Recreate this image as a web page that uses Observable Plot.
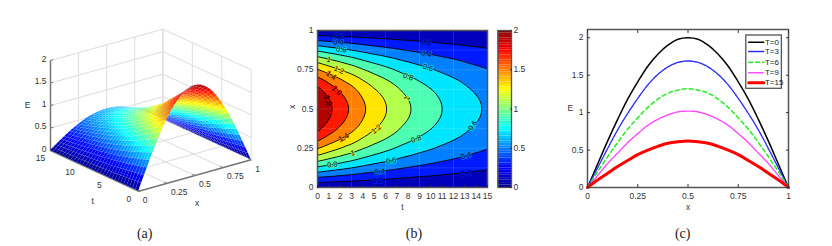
<!DOCTYPE html>
<html><head><meta charset="utf-8">
<script src="https://cdn.jsdelivr.net/npm/d3@7"></script>
<script src="https://cdn.jsdelivr.net/npm/@observablehq/plot@0.6"></script>
<style>
html,body{margin:0;padding:0;background:#fff;width:832px;height:246px;overflow:hidden}
#root{position:relative;width:832px;height:246px}
#root>svg,#root>figure{position:absolute;margin:0}
.cap{position:absolute;top:226px;font-family:"Liberation Serif",serif;font-size:14px;color:#222;transform:translateX(-50%)}
</style></head><body><div id="root"></div>
<script>
// ---- values ----
const xGrid = [0,.025,.05,.075,.1,.125,.15,.175,.2,.225,.25,.275,.3,.325,.35,.375,.4,.425,.45,.475,.5,.525,.55,.575,.6,.625,.65,.675,.7,.725,.75,.775,.8,.825,.85,.875,.9,.925,.95,.975,1];
const profile = [0,.0785,.156,.233,.309,.383,.454,.523,.588,.649,.707,.760,.809,.853,.891,.924,.951,.972,.988,.997,1,.997,.988,.972,.951,.924,.891,.853,.809,.760,.707,.649,.588,.523,.454,.383,.309,.233,.156,.0785,0];
const tGrid = [0,.5,1,1.5,2,2.5,3,3.5,4,4.5,5,5.5,6,6.5,7,7.5,8,8.5,9,9.5,10,10.5,11,11.5,12,12.5,13,13.5,14,14.5,15];
const midlineE = [2,1.92,1.84,1.77,1.70,1.63,1.57,1.50,1.43,1.37,1.31,1.26,1.21,1.16,1.11,1.06,1.02,.98,.94,.905,.87,.835,.80,.77,.74,.71,.68,.65,.625,.60,.575];

const xCurve = [0,.05,.1,.15,.2,.25,.3,.35,.4,.45,.5,.55,.6,.65,.7,.75,.8,.85,.9,.95,1];
const seriesT0  = [0,.31,.62,.91,1.18,1.41,1.62,1.78,1.90,1.98,2.00,1.98,1.90,1.78,1.62,1.41,1.18,.91,.62,.31,0];
const seriesT3  = [0,.26,.52,.77,.99,1.19,1.37,1.51,1.61,1.67,1.69,1.67,1.61,1.51,1.37,1.19,.99,.77,.52,.26,0];
const seriesT6  = [0,.21,.41,.60,.78,.93,1.07,1.18,1.26,1.30,1.32,1.30,1.26,1.18,1.07,.93,.78,.60,.41,.21,0];
const seriesT9  = [0,.16,.32,.46,.60,.72,.83,.91,.97,1.01,1.02,1.01,.97,.91,.83,.72,.60,.46,.32,.16,0];
const seriesT15 = [0,.10,.19,.28,.36,.44,.50,.55,.59,.61,.62,.61,.59,.55,.50,.44,.36,.28,.19,.10,0];

const xTicks = [0,.25,.5,.75,1];
const tTicks3d = [0,5,10,15];
const tTicks = [0,1,2,3,4,5,6,7,8,9,10,11,12,13,14,15];
const eTicks = [0,.5,1,1.5,2];
const levels = [.2,.4,.6,.8,1,1.2,1.4,1.6,1.8];
const bands = [0,...levels];
const faintT = [3,6,9,12];
const faintX = [.125,.25,.375,.5,.625,.75,.875];

const contourLabels = [
 [1.9,.964,.2,3],[9.6,.926,.2,5],[1.85,.926,.4,4],[9.6,.851,.4,10],[2.1,.879,.6,8],[9.75,.764,.6,18],
 [8,.706,.8,22],[1,.815,1,15],[1.9,.749,1.2,25],[1.2,.713,1.4,35],[1.7,.617,1.6,45],[.9,.553,1.8,70],
 [7.9,.57,1,-75],[13.7,.394,.6,-55],[8.7,.309,.8,-20],[5.2,.372,1.2,-40],[2.3,.319,1.4,-30],[3.1,.219,1,-15],
 [6.5,.17,.6,-10],[1.3,.145,.8,-8],[13.1,.202,.4,-15],[5.5,.1,.4,-5],[13.1,.091,.2,-3],[5.3,.043,.2,-1]
].map(([t,x,level,rotate])=>({t,x,level,rotate}));

const legendRows = [
 {label:"T=0", y:1.94, stroke:"#000", width:1.5, dash:null},
 {label:"T=3", y:1.817,stroke:"#2a2aff",width:1.4,dash:"1.5 1"},
 {label:"T=6", y:1.674,stroke:"#22ee22",width:1.5,dash:"4 3"},
 {label:"T=9", y:1.532,stroke:"#ff44ff",width:1.4,dash:"1.2 1"},
 {label:"T=15",y:1.398,stroke:"#f00",width:3,dash:null}
];

// ---- shared ----
const jetDomain = [0,.25,.75,1.25,1.75,2];
const jetRange = ["#00008f","#0000ff","#00ffff","#ffff00","#ff0000","#800000"];
const frameColor = "#555";
const font = {fontFamily:"'Liberation Sans',Arial,sans-serif",fontSize:"8.5px",color:"#333",background:"transparent",overflow:"visible"};
const root = document.getElementById("root");
function place(plot,left,top=0){plot.style.left=left+"px";plot.style.top=top+"px";root.appendChild(plot);}

const table = tGrid.flatMap((t,i)=>xGrid.map((x,j)=>({t,x,E:midlineE[i]*profile[j]})));

// ---- (a) surface ----
const px = (x,t)=>138.3+112.4*x-5.887*t;
const py = (x,t,E)=>190.7-31.4*x-2.71*t-45*E;
const seg = (a,b)=>({x1:px(a[0],a[1]),y1:py(...a),x2:px(b[0],b[1]),y2:py(...b)});
const gridSegs = [
 ...eTicks.flatMap(E=>[seg([0,15,E],[1,15,E]),seg([1,15,E],[1,0,E])]),
 ...xTicks.flatMap(x=>[seg([x,15,0],[x,15,2]),seg([x,15,0],[x,0,0])]),
 ...tTicks3d.flatMap(t=>[seg([1,t,0],[1,t,2]),seg([1,t,0],[0,t,0])])
];
const axisSegs = [seg([0,15,0],[0,15,2]),seg([0,0,0],[1,0,0]),seg([0,15,0],[0,0,0])];
const tickSegs = [
 ...eTicks.map(E=>seg([0,15,E],[.025,15,E])),
 ...xTicks.map(x=>seg([x,0,0],[x,.45,0])),
 ...tTicks3d.map(t=>seg([0,t,0],[.025,t,0]))
];
const quads = [];
let id = 0;
for (let i=tGrid.length-2;i>=0;i--) for (let j=xGrid.length-2;j>=0;j--) {
  const T0=tGrid[i],T1=tGrid[i+1],X0=xGrid[j],X1=xGrid[j+1];
  const e=(a,b)=>midlineE[a]*profile[b];
  const mean=(e(i,j)+e(i+1,j)+e(i,j+1)+e(i+1,j+1))/4;
  quads.push({id,E:mean,a:px(X0,T0),b:py(X0,T0,e(i,j)),c:px(X0,T1),d:py(X0,T1,e(i+1,j))});
  quads.push({id,E:mean,a:px(X1,T0),b:py(X1,T0,e(i,j+1)),c:px(X1,T1),d:py(X1,T1,e(i+1,j+1))});
  id++;
}
const lab3d = (rows,o)=>Plot.text(rows,{x:"x",y:"y",text:"text",fill:"#333",...o});
place(Plot.plot({
  width:300,height:222,margin:0,style:font,
  x:{domain:[0,300],range:[0,300],axis:null},
  y:{domain:[0,222],range:[0,222],axis:null},
  color:{type:"linear",domain:jetDomain,range:jetRange,interpolate:"rgb"},
  marks:[
    Plot.link(gridSegs,{x1:"x1",y1:"y1",x2:"x2",y2:"y2",stroke:"#dcdcdc",strokeWidth:1}),
    Plot.link(axisSegs,{x1:"x1",y1:"y1",x2:"x2",y2:"y2",stroke:"#777",strokeWidth:1.5}),
    Plot.link(tickSegs,{x1:"x1",y1:"y1",x2:"x2",y2:"y2",stroke:"#777",strokeWidth:1}),
    Plot.area(quads,{x1:"a",y1:"b",x2:"c",y2:"d",z:"id",fill:"E",stroke:"#fff",strokeOpacity:.12,strokeWidth:.5}),
    lab3d(eTicks.map(E=>({x:px(0,15),y:py(0,15,E),text:String(E)})),{dx:-4,dy:-1.5,textAnchor:"end"}),
    lab3d(tTicks3d.map(t=>({x:px(0,t),y:py(0,t,0),text:String(t)})),{dx:-10,dy:8}),
    lab3d(xTicks.map(x=>({x:px(x,0),y:py(x,0,0),text:String(x)})),{dx:4,dy:9,textAnchor:"start"}),
    lab3d([{x:px(0,15),y:py(0,15,1),text:"E"}],{dx:-23}),
    lab3d([{x:px(0,7.5),y:py(0,7.5,0),text:"t"}],{dx:-2,dy:30}),
    lab3d([{x:px(.5,0),y:py(.5,0,0),text:"x"}],{dx:2,dy:28})
  ]
}),0);

// ---- (b) contour map ----
place(Plot.plot({
  width:210,height:222,marginLeft:37,marginRight:3,marginTop:30,marginBottom:35,style:font,
  x:{domain:[0,15],axis:null},
  y:{domain:[0,1],axis:null},
  color:{type:"linear",domain:jetDomain.map(d=>d-.1),range:jetRange,interpolate:"rgb",clamp:true},
  marks:[
    Plot.contour(table,{x:"t",y:"x",fill:"E",thresholds:bands,interpolate:"barycentric",pixelSize:1,x1:0,x2:15,y1:0,y2:1}),
    Plot.ruleX(faintT,{stroke:"#fff",strokeOpacity:.13,strokeWidth:1}),
    Plot.ruleY(faintX,{stroke:"#fff",strokeOpacity:.13,strokeWidth:1}),
    Plot.contour(table,{x:"t",y:"x",value:"E",thresholds:levels,interpolate:"barycentric",pixelSize:1,x1:0,x2:15,y1:0,y2:1,fill:"none",stroke:"#000",strokeWidth:.9,clip:true}),
    Plot.text(contourLabels,{x:"t",y:"x",text:d=>String(d.level),rotate:"rotate",fill:"#000",stroke:"level",strokeWidth:1.4,fontSize:7.5}),
    Plot.frame({stroke:frameColor,strokeWidth:1.5}),
    Plot.axisX({ticks:tTicks,tickSize:-2,tickPadding:7,tickFormat:String,label:"t",labelArrow:"none",labelAnchor:"center",labelOffset:22,anchor:"bottom"}),
    Plot.axisY({ticks:xTicks,tickSize:-2,tickPadding:6,tickFormat:String,label:null,anchor:"left"}),
    Plot.text(["x"],{frameAnchor:"left",rotate:-90,dx:-25,fill:"#333"})
  ]
}),280);

// ---- colour bar ----
const barLevels = d3.range(64).map(i=>i/32);
place(Plot.plot({
  width:40,height:222,marginLeft:7.5,marginRight:19,marginTop:30,marginBottom:35,style:font,
  x:{domain:[0,1],axis:null},
  y:{domain:[0,2],axis:null},
  color:{type:"linear",domain:jetDomain,range:jetRange,interpolate:"rgb"},
  marks:[
    Plot.rect(barLevels,{x1:0,x2:1,y1:d=>d,y2:d=>d+1/32,fill:d=>d+1/64}),
    Plot.frame({stroke:frameColor,strokeWidth:1.3}),
    Plot.axisY({ticks:eTicks,anchor:"right",tickSize:-2,tickPadding:4,tickFormat:String,label:null})
  ]
}),490);

// ---- (c) line chart ----
const lineMarks = [[seriesT0,0],[seriesT3,1],[seriesT6,2],[seriesT9,3],[seriesT15,4]].map(([vals,k])=>{
  const r=legendRows[k];
  return Plot.line(vals,{x:(d,i)=>xCurve[i],y:d=>d,stroke:r.stroke,strokeWidth:r.width,strokeDasharray:r.dash,curve:"catmull-rom"});
});
const legendLines = legendRows.map(r=>Plot.line([.802,.877],{x:d=>d,y:()=>r.y,stroke:r.stroke,strokeWidth:r.width,strokeDasharray:r.dash}));
place(Plot.plot({
  width:250,height:222,marginLeft:37,marginRight:12,marginTop:29,marginBottom:35,style:font,
  x:{domain:[0,1],axis:null},
  y:{domain:[0,2.11],axis:null},
  marks:[
    ...lineMarks,
    Plot.rect([0],{x1:.79,x2:.967,y1:1.318,y2:2.03,fill:"#fff",stroke:frameColor,strokeWidth:1.3}),
    ...legendLines,
    Plot.text(legendRows,{x:.883,y:"y",text:"label",textAnchor:"start",fill:"#222",fontSize:8}),
    Plot.frame({stroke:frameColor,strokeWidth:1.5}),
    Plot.axisX({ticks:xTicks,tickSize:-3,tickPadding:8,tickFormat:String,label:"x",labelArrow:"none",labelAnchor:"center",labelOffset:22,anchor:"bottom"}),
    Plot.axisX({ticks:xTicks,tickSize:-3,tickFormat:()=>"",label:null,anchor:"top"}),
    Plot.axisY({ticks:eTicks,tickSize:-3,tickPadding:7,tickFormat:String,label:null,anchor:"left"}),
    Plot.axisY({ticks:eTicks,tickSize:-3,tickFormat:()=>"",label:null,anchor:"right"}),
    Plot.text(["E"],{frameAnchor:"left",dx:-20,fill:"#333"})
  ]
}),550);

// ---- captions ----
[["(a)",144.7],["(b)",414],["(c)",682.7]].forEach(([s,x])=>{
  const d=document.createElement("div");d.className="cap";d.textContent=s;d.style.left=x+"px";root.appendChild(d);
});
</script></body></html>
